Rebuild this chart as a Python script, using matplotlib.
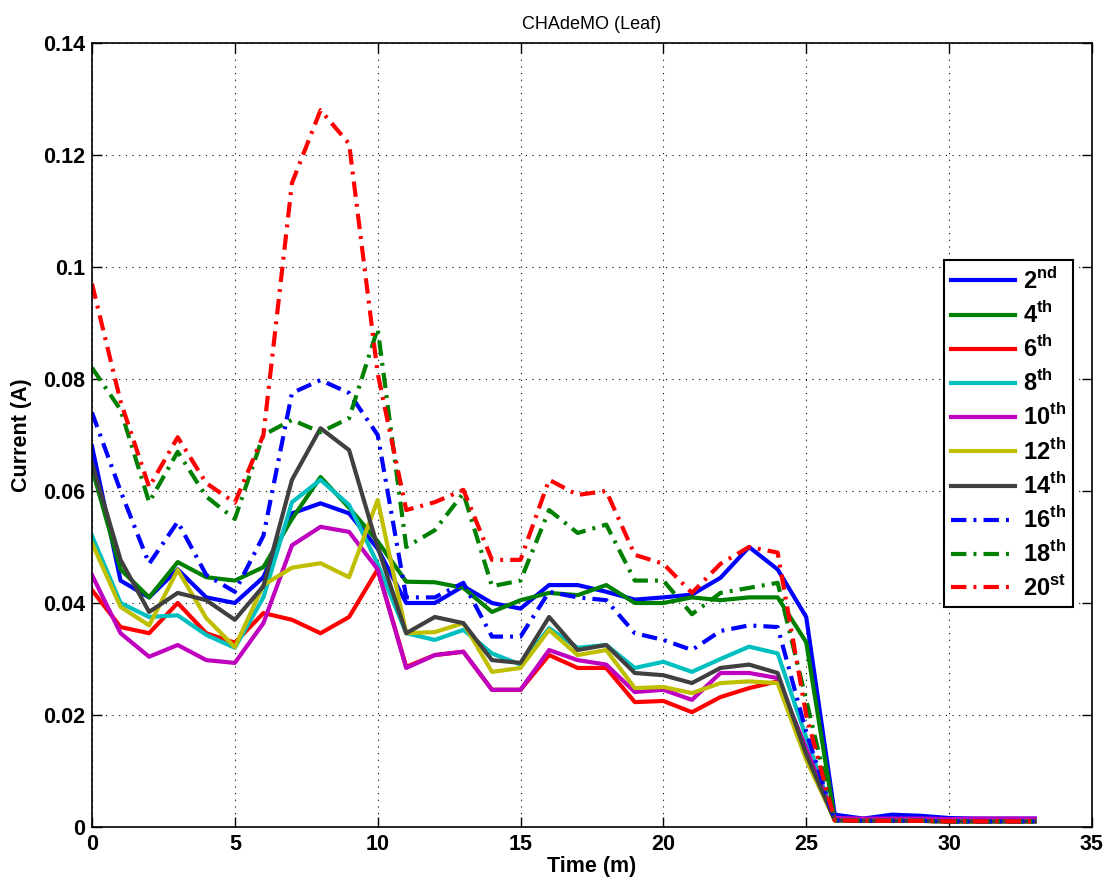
import matplotlib
matplotlib.use('Agg')
import matplotlib.pyplot as plt
from matplotlib.ticker import FuncFormatter, MultipleLocator

# Time axis (minutes)
time_m = list(range(34))

tail = [0.0012, 0.0011, 0.0011, 0.0011, 0.0010, 0.0010, 0.0010, 0.0010]

# Harmonic currents
h2 = [0.068, 0.044, 0.041, 0.046, 0.041, 0.040, 0.0446, 0.056, 0.0578, 0.056,
      0.0497, 0.040, 0.040, 0.043, 0.040, 0.039, 0.0432, 0.0432, 0.042, 0.0406,
      0.041, 0.0415, 0.0445, 0.050, 0.046, 0.0375,
      0.0022, 0.0015, 0.0022, 0.0020, 0.0016, 0.0015, 0.0015, 0.0015]
h4 = [0.064, 0.046, 0.041, 0.0473, 0.0446, 0.044, 0.0464, 0.055, 0.0625, 0.057,
      0.051, 0.0438, 0.0437, 0.0427, 0.0384, 0.0405, 0.0418, 0.0414, 0.0432, 0.040,
      0.040, 0.041, 0.0405, 0.041, 0.041, 0.033] + tail
h6 = [0.0423, 0.0357, 0.0346, 0.040, 0.0346, 0.0329, 0.0382, 0.037, 0.0346, 0.0375,
      0.046, 0.0286, 0.0307, 0.0313, 0.0245, 0.0245, 0.0307, 0.0284, 0.0284, 0.0223,
      0.0225, 0.0205, 0.0232, 0.0248, 0.026, 0.014] + tail
h8 = [0.052, 0.040, 0.0375, 0.0378, 0.0343, 0.032, 0.041, 0.058, 0.062, 0.0575,
      0.047, 0.0346, 0.0334, 0.0352, 0.031, 0.029, 0.0355, 0.032, 0.0325, 0.0284,
      0.0295, 0.0277, 0.030, 0.0322, 0.031, 0.016] + tail
h10 = [0.045, 0.0346, 0.0304, 0.0325, 0.0298, 0.0293, 0.0364, 0.0503, 0.0536, 0.0527,
       0.046, 0.0284, 0.0307, 0.0313, 0.0245, 0.0245, 0.0316, 0.0298, 0.029, 0.0241,
       0.0245, 0.0227, 0.0275, 0.0275, 0.0266, 0.014,
       0.0016, 0.0015, 0.0015, 0.0015, 0.0014, 0.0015, 0.0015, 0.0015]
h12 = [0.0507, 0.0393, 0.036, 0.0459, 0.0373, 0.0321, 0.0432, 0.0463, 0.0471, 0.0446,
       0.0584, 0.0346, 0.0348, 0.0364, 0.0277, 0.0284, 0.0352, 0.0307, 0.0316, 0.0248,
       0.025, 0.0239, 0.0257, 0.026, 0.0257, 0.012] + tail
h14 = [0.065, 0.0477, 0.0384, 0.0418, 0.0405, 0.037, 0.043, 0.062, 0.0712, 0.0673,
       0.050, 0.0346, 0.0375, 0.0364, 0.0298, 0.0293, 0.0375, 0.0316, 0.0325, 0.0275,
       0.0271, 0.0257, 0.0284, 0.029, 0.0275, 0.013] + tail
h16 = [0.074, 0.060, 0.047, 0.0545, 0.045, 0.042, 0.052, 0.0775, 0.0798, 0.0775,
       0.070, 0.041, 0.041, 0.0436, 0.034, 0.034, 0.042, 0.041, 0.0405, 0.0346,
       0.0334, 0.0316, 0.035, 0.036, 0.0357, 0.017] + tail
h18 = [0.082, 0.0745, 0.058, 0.067, 0.059, 0.055, 0.070, 0.0727, 0.0705, 0.073,
       0.089, 0.050, 0.053, 0.0596, 0.043, 0.044, 0.0566, 0.0525, 0.054, 0.044,
       0.044, 0.038, 0.0418, 0.0427, 0.0436, 0.0227] + tail
h20 = [0.097, 0.076, 0.0607, 0.0696, 0.0614, 0.0579, 0.070, 0.115, 0.128, 0.122,
       0.081, 0.0566, 0.058, 0.0602, 0.0477, 0.0477, 0.062, 0.0593, 0.060, 0.0486,
       0.047, 0.0418, 0.047, 0.050, 0.049, 0.020] + tail

labels = ['2', '4', '6', '8', '10', '12', '14', '16', '18', '20']
suffixes = ['nd', 'th', 'th', 'th', 'th', 'th', 'th', 'th', 'th', 'st']
colors = ['#0000ff', '#008000', '#ff0000', '#00bfbf', '#bf00bf',
          '#bfbf00', '#404040', '#0000ff', '#008000', '#ff0000']

DASHDOT = (0, (3.7, 1.7, 0.7, 1.7))


def main() -> None:
    plt.rcParams['font.family'] = ['Liberation Sans', 'DejaVu Sans']
    plt.rcParams['mathtext.fontset'] = 'custom'
    plt.rcParams['mathtext.rm'] = 'Liberation Sans:bold'
    plt.rcParams['mathtext.bf'] = 'Liberation Sans:bold'

    series = [h2, h4, h6, h8, h10, h12, h14, h16, h18, h20]

    fig = plt.figure(figsize=(11.11, 8.9), dpi=100)
    ax = fig.add_axes([0.0828, 0.0708, 0.9, 0.8809])

    for i, values in enumerate(series):
        style = '-' if i < 7 else DASHDOT
        ax.plot(time_m, values, color=colors[i], linestyle=style, linewidth=3,
                label=r'%s$^{\mathbf{%s}}$' % (labels[i], suffixes[i]))

    ax.set_xlim(0, 35)
    ax.set_ylim(0, 0.14)
    ax.xaxis.set_major_locator(MultipleLocator(5))
    ax.yaxis.set_major_locator(MultipleLocator(0.02))
    ax.yaxis.set_major_formatter(FuncFormatter(lambda v, pos: '{:g}'.format(round(v, 4))))

    ax.grid(True, color='black', linestyle=(0, (1, 5)), linewidth=0.8)
    ax.tick_params(direction='in', top=True, right=True, length=7, width=1,
                   labelsize=15.5, pad=5)
    for lab in ax.get_xticklabels() + ax.get_yticklabels():
        lab.set_fontweight('bold')
    for spine in ax.spines.values():
        spine.set_linewidth(1.2)

    ax.set_title('CHAdeMO (Leaf)', fontsize=13, pad=10)
    ax.set_xlabel('Time (m)', fontsize=15.5, fontweight='bold', labelpad=1)
    ax.set_ylabel('Current (A)', fontsize=15.5, fontweight='bold', labelpad=8)

    leg = ax.legend(loc='upper left', bbox_to_anchor=(0.852, 0.723),
                    fancybox=False, framealpha=1, edgecolor='black',
                    handlelength=2.7, handletextpad=0.35, labelspacing=0.33,
                    borderaxespad=0, borderpad=0.3,
                    prop={'size': 17, 'weight': 'bold'})
    leg.get_frame().set_linewidth(1.5)

    fig.savefig('out.png', dpi=100)


if __name__ == '__main__':
    main()
